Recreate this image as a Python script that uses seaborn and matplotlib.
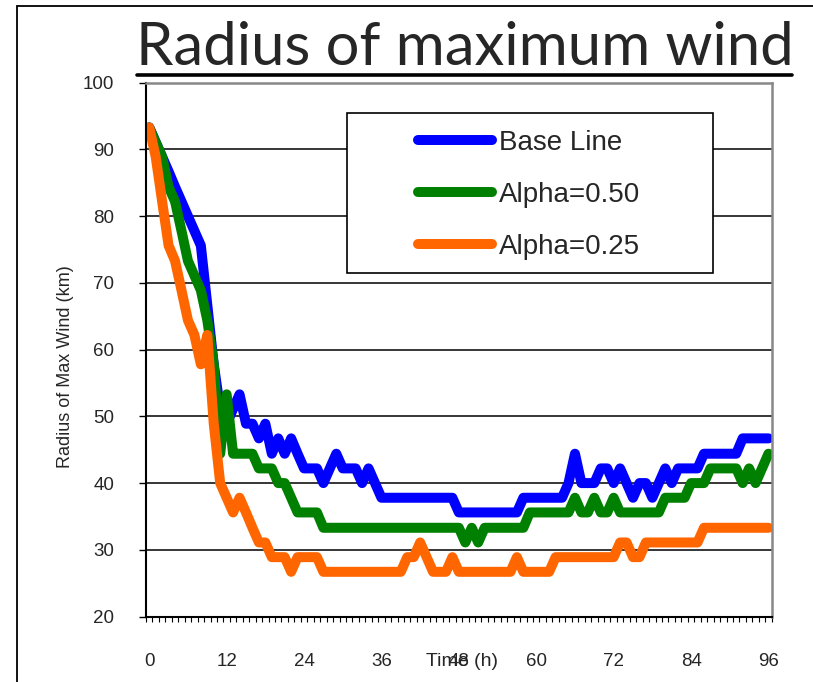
import matplotlib.pyplot as plt
import matplotlib.lines as mlines
from matplotlib.patches import Rectangle
import seaborn as sns
import numpy as np
import pandas as pd

# hourly radius of max wind (km)
hours = list(range(97))

base_line = [93.3, 91.1, 88.9, 86.7, 84.4, 82.2, 80.0, 77.8, 75.6, 66.7,
             57.8, 51.1, 48.9, 51.1, 53.3, 48.9, 48.9, 46.7, 48.9, 44.4,
             46.7, 44.4, 46.7, 44.4, 42.2, 42.2, 42.2, 40.0, 42.2, 44.4,
             42.2, 42.2, 42.2, 40.0, 42.2, 40.0, 37.8, 37.8, 37.8, 37.8,
             37.8, 37.8, 37.8, 37.8, 37.8, 37.8, 37.8, 37.8, 35.6, 35.6,
             35.6, 35.6, 35.6, 35.6, 35.6, 35.6, 35.6, 35.6, 37.8, 37.8,
             37.8, 37.8, 37.8, 37.8, 37.8, 40.0, 44.4, 40.0, 40.0, 40.0,
             42.2, 42.2, 40.0, 42.2, 40.0, 37.8, 40.0, 40.0, 37.8, 40.0,
             42.2, 40.0, 42.2, 42.2, 42.2, 42.2, 44.4, 44.4, 44.4, 44.4,
             44.4, 44.4, 46.7, 46.7, 46.7, 46.7, 46.7]

alpha_050 = [93.3, 91.1, 88.9, 84.4, 82.2, 77.8, 73.3, 71.1, 68.9, 64.4,
             57.8, 44.4, 53.3, 44.4, 44.4, 44.4, 44.4, 42.2, 42.2, 42.2,
             40.0, 40.0, 37.8, 35.6, 35.6, 35.6, 35.6, 33.3, 33.3, 33.3,
             33.3, 33.3, 33.3, 33.3, 33.3, 33.3, 33.3, 33.3, 33.3, 33.3,
             33.3, 33.3, 33.3, 33.3, 33.3, 33.3, 33.3, 33.3, 33.3, 31.1,
             33.3, 31.1, 33.3, 33.3, 33.3, 33.3, 33.3, 33.3, 33.3, 35.6,
             35.6, 35.6, 35.6, 35.6, 35.6, 35.6, 37.8, 35.6, 35.6, 37.8,
             35.6, 35.6, 37.8, 35.6, 35.6, 35.6, 35.6, 35.6, 35.6, 35.6,
             37.8, 37.8, 37.8, 37.8, 40.0, 40.0, 40.0, 42.2, 42.2, 42.2,
             42.2, 42.2, 40.0, 42.2, 40.0, 42.2, 44.4]

alpha_025 = [93.3, 88.9, 82.2, 75.6, 73.3, 68.9, 64.4, 62.2, 57.8, 62.2,
             48.9, 40.0, 37.8, 35.6, 37.8, 35.6, 33.3, 31.1, 31.1, 28.9,
             28.9, 28.9, 26.7, 28.9, 28.9, 28.9, 28.9, 26.7, 26.7, 26.7,
             26.7, 26.7, 26.7, 26.7, 26.7, 26.7, 26.7, 26.7, 26.7, 26.7,
             28.9, 28.9, 31.1, 28.9, 26.7, 26.7, 26.7, 28.9, 26.7, 26.7,
             26.7, 26.7, 26.7, 26.7, 26.7, 26.7, 26.7, 28.9, 26.7, 26.7,
             26.7, 26.7, 26.7, 28.9, 28.9, 28.9, 28.9, 28.9, 28.9, 28.9,
             28.9, 28.9, 28.9, 31.1, 31.1, 28.9, 28.9, 31.1, 31.1, 31.1,
             31.1, 31.1, 31.1, 31.1, 31.1, 31.1, 33.3, 33.3, 33.3, 33.3,
             33.3, 33.3, 33.3, 33.3, 33.3, 33.3, 33.3]

series_names = ["Base Line", "Alpha=0.50", "Alpha=0.25"]
series_colors = ["#0000FF", "#008000", "#FF6600"]

y_ticks = [20, 30, 40, 50, 60, 70, 80, 90, 100]
x_ticks = [0, 12, 24, 36, 48, 60, 72, 84, 96]

df = pd.DataFrame({
    "hour": hours * 3,
    "rmw": base_line + alpha_050 + alpha_025,
    "run": [series_names[0]] * 97 + [series_names[1]] * 97 + [series_names[2]] * 97,
})

sns.set_style("white")
plt.rcParams['font.family'] = ['Liberation Sans', 'DejaVu Sans']

fig = plt.figure(figsize=(8.13, 6.82), dpi=100)
ax = fig.add_axes([0.1796, 0.096, 0.7696, 0.7827])

sns.lineplot(data=df, x="hour", y="rmw", hue="run", hue_order=series_names,
             palette=series_colors, linewidth=7.2, errorbar=None, legend=False,
             solid_capstyle='round', solid_joinstyle='round', ax=ax)

ax.set_xlim(-0.5, 96.5)
ax.set_ylim(20, 100)
ax.set_yticks(y_ticks)
ax.set_xticks(x_ticks)
ax.set_xticks(np.arange(-0.5, 97, 1), minor=True)
ax.tick_params(axis='x', which='major', length=0, pad=26, labelsize=13.5)
ax.tick_params(axis='x', which='minor', length=3.6, width=0.8, color='black', direction='out', bottom=True)
ax.tick_params(axis='y', which='major', length=5, width=1, color='black', direction='out', left=True, pad=18, labelsize=13.5)
ax.set_xlabel("")
ax.set_ylabel("")

ax.yaxis.grid(True, color='black', lw=1.1)
ax.set_axisbelow(True)
for side in ['left', 'bottom']:
    ax.spines[side].set_color('black')
    ax.spines[side].set_linewidth(1.5)
for side in ['top', 'right']:
    ax.spines[side].set_color('#888888')
    ax.spines[side].set_linewidth(1.8)

# legend box + entries
ax.add_patch(Rectangle((0.3212, 0.6435), 0.585, 0.2998, transform=ax.transAxes,
                       facecolor='white', edgecolor='black', lw=1.2, zorder=3))
ax.legend(handles=ax.lines[:3], labels=series_names, loc='upper left',
          bbox_to_anchor=(0.4347, 0.9114), frameon=False, fontsize=20,
          handlelength=2.66, handletextpad=0.25, labelspacing=0.93,
          borderpad=0, borderaxespad=0)

fig.text(65 / 813, 1 - 367 / 682, "Radius of Max Wind (km)", rotation=90,
         ha='center', va='center', fontsize=13)
fig.text(462 / 813, 1 - 662 / 682, "Time (h)", ha='center', va='center', fontsize=14)

# title with underline, and the slide frame
fig.text(465 / 813, 1 - 65 / 682, "Radius of maximum wind", ha='center', va='baseline',
         fontsize=43, family=['Lato', 'DejaVu Sans'])
fig.add_artist(mlines.Line2D([137 / 813, 792 / 813], [1 - 75 / 682] * 2, color='black', lw=2.6))
fig.add_artist(mlines.Line2D([17 / 813, 17 / 813], [0, 1 - 6 / 682], color='black', lw=1.3))
fig.add_artist(mlines.Line2D([17 / 813, 1], [1 - 6 / 682] * 2, color='black', lw=1.3))

fig.savefig("out.png", dpi=100)
